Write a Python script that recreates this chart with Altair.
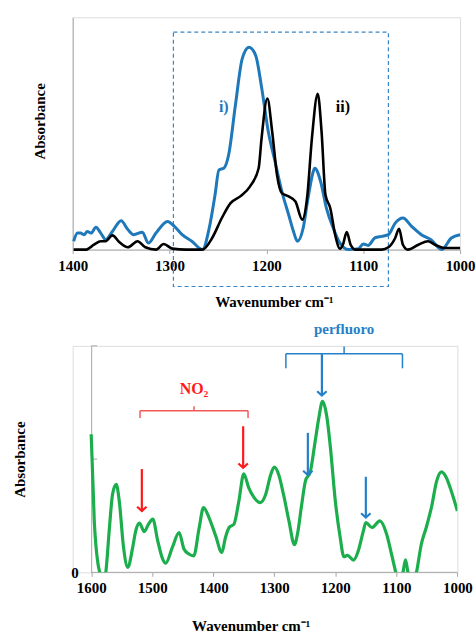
import altair as alt
import pandas as pd

# ---------------- data: top panel (i: blue, ii: black) ----------------
blue_wn = [1399, 1395, 1392, 1388, 1385, 1381, 1376, 1371, 1366, 1359, 1350, 1343, 1337, 1328, 1322,
           1314, 1302, 1295, 1287, 1277, 1266, 1259, 1253, 1249, 1244, 1239, 1232, 1225, 1218, 1211,
           1205, 1198, 1191, 1184, 1177, 1172, 1168, 1162, 1157, 1151, 1150, 1144, 1138, 1131, 1124,
           1115, 1105, 1100, 1095, 1088, 1081, 1074, 1067, 1059, 1050, 1040, 1030, 1019, 1009, 1000]
blue_abs = [0.036, 0.071, 0.071, 0.064, 0.078, 0.071, 0.096, 0.071, 0.043, 0.078, 0.124, 0.086, 0.064, 0.075, 0.028,
            0.071, 0.121, 0.100, 0.064, 0.036, 0.000, 0.093, 0.236, 0.343, 0.350, 0.407, 0.621, 0.821, 0.871, 0.835,
            0.700, 0.507, 0.378, 0.250, 0.150, 0.078, 0.036, 0.093, 0.221, 0.343, 0.350, 0.293, 0.178, 0.093, 0.028,
            0.000, 0.004, 0.024, 0.018, 0.050, 0.057, 0.064, 0.114, 0.136, 0.100, 0.064, 0.043, 0.000, 0.050, 0.064]

black_wn = [1399, 1386, 1378, 1371, 1366, 1359, 1352, 1343, 1333, 1325, 1314, 1306, 1297, 1283, 1266,
            1256, 1246, 1237, 1227, 1217, 1208, 1205, 1199, 1194, 1189, 1184, 1177, 1170, 1163, 1158,
            1153, 1147, 1143, 1139, 1134, 1129, 1124, 1121, 1117, 1113, 1108, 1081, 1074, 1067, 1063,
            1059, 1054, 1043, 1033, 1026, 1016, 1000]
black_abs = [0.000, 0.000, 0.021, 0.036, 0.036, 0.061, 0.033, 0.010, 0.036, 0.010, 0.000, 0.024, 0.004, 0.000, 0.000,
             0.050, 0.136, 0.200, 0.229, 0.271, 0.350, 0.478, 0.650, 0.507, 0.321, 0.243, 0.229, 0.207, 0.129, 0.221,
             0.478, 0.671, 0.507, 0.236, 0.178, 0.064, 0.004, 0.021, 0.075, 0.021, 0.000, 0.000, 0.010, 0.050, 0.090,
             0.021, 0.000, 0.021, 0.036, 0.021, 0.007, 0.007]

top_ticks = [1400, 1300, 1200, 1100, 1000]
box_wn = [1296, 1074]
box_abs = [0.936, -0.159]
top_label_text = ["i)", "ii)"]
top_label_wn = [1244, 1121]
top_label_abs = [0.614, 0.614]

# ---------------- data: bottom panel (green) ----------------
green_wn = [1600, 1595, 1589, 1586, 1581, 1576, 1570, 1565, 1559, 1554, 1547, 1540, 1532, 1527, 1521,
            1513, 1506, 1499, 1491, 1483, 1478, 1467, 1456, 1448, 1440, 1432, 1423, 1416, 1407, 1396,
            1386, 1380, 1374, 1366, 1358, 1350, 1342, 1333, 1323, 1314, 1306, 1300, 1293, 1285, 1276,
            1267, 1262, 1255, 1249, 1241, 1233, 1227, 1221, 1214, 1208, 1200, 1192, 1186, 1180, 1170,
            1162, 1154, 1150, 1140, 1127, 1116, 1108, 1101, 1094, 1089, 1085, 1081, 1075, 1067, 1059,
            1051, 1042, 1034, 1026, 1018, 1010, 1000]
green_abs = [0.610, 0.230, 0.040, 0.000, -0.060, 0.000, 0.200, 0.345, 0.389, 0.315, 0.110, 0.022, 0.110, 0.183, 0.217,
             0.180, 0.213, 0.235, 0.139, 0.059, 0.040, 0.110, 0.176, 0.103, 0.081, 0.073, 0.198, 0.286, 0.242, 0.161,
             0.088, 0.154, 0.198, 0.213, 0.315, 0.435, 0.374, 0.330, 0.308, 0.345, 0.430, 0.465, 0.433, 0.345, 0.227,
             0.122, 0.169, 0.301, 0.403, 0.444, 0.579, 0.682, 0.755, 0.689, 0.550, 0.315, 0.154, 0.069, 0.075, 0.054,
             0.098, 0.183, 0.220, 0.198, 0.227, 0.169, 0.081, 0.000, -0.080, 0.000, 0.055, 0.000, -0.080, 0.000, 0.125,
             0.198, 0.293, 0.403, 0.444, 0.418, 0.359, 0.271]

bottom_ticks = [1600, 1500, 1400, 1300, 1200, 1100, 1000]
bottom_y_ticks = [0, 0.5, 1]

# annotation arrows (wavenumber, tail absorbance, tip absorbance, group)
arrow_wn = [1517, 1351, 1222, 1245, 1150]
arrow_tail = [0.456, 0.645, 0.966, 0.616, 0.422]
arrow_tip = [0.271, 0.462, 0.781, 0.430, 0.242]
arrow_group = ["NO2", "NO2", "perfluoro", "perfluoro", "perfluoro"]

# brackets: (left wn, right wn, bar level, hook level, centre wn, centre top)
bracket_group = ["NO2", "perfluoro"]
bracket_left = [1520, 1281]
bracket_right = [1343, 1090]
bracket_level = [0.714, 0.965]
bracket_hook = [0.682, 0.901]
bracket_centre = [1431.5, 1185.6]
bracket_top = [0.733, 0.997]
bracket_label = ["NO\u2082", "perfluoro"]
bracket_label_abs = [0.808, 1.076]

# ---------------- styling ----------------
SERIF = "Liberation Serif"
GRAY = "#a6a6a6"
BLUE_LINE = "#1f78ba"
GREEN = "#1cae4c"
RED = "#ff1a1a"
RED_BRACKET = "#f25a5a"
BLUE_ANN = "#2680c8"
BOX = "#3a86c4"
group_color = {"NO2": RED, "perfluoro": BLUE_ANN}
bracket_color = {"NO2": RED_BRACKET, "perfluoro": BLUE_ANN}

# ---------------- top panel ----------------
TOP_W, TOP_H = 389, 233.3
x_top_scale = alt.Scale(domain=[1000, 1400], reverse=True, nice=False, zero=False)
y_top_scale = alt.Scale(domain=[0, 1], nice=False, zero=False)

x_top_axis = alt.Axis(values=top_ticks, format="d", title="Wavenumber cm\u207b\u00b9",
                      labelFont=SERIF, labelFontSize=15, labelFontWeight="bold", labelColor="black",
                      labelFlush=False, labelOverlap=False, labelPadding=5,
                      domainColor=GRAY, tickColor=GRAY, tickSize=4, grid=False,
                      titleFont=SERIF, titleFontSize=15, titleFontWeight="bold", titleColor="black",
                      titleX=202, titleY=52, titleBaseline="middle", titleAlign="center")
y_top_axis = alt.Axis(title="Absorbance", labels=False, ticks=False, grid=False, domainColor=GRAY,
                      titleFont=SERIF, titleFontSize=15, titleFontWeight="bold", titleColor="black",
                      titleX=-33, titleY=104, titleBaseline="middle", titleAlign="center", titleAngle=-90)


def xt(field="wn"):
    return alt.X(f"{field}:Q", scale=x_top_scale, axis=x_top_axis)


def yt(field="a"):
    return alt.Y(f"{field}:Q", scale=y_top_scale, axis=y_top_axis)


df_blue = pd.DataFrame({"wn": blue_wn, "a": blue_abs})
df_black = pd.DataFrame({"wn": black_wn, "a": black_abs})
df_box = pd.DataFrame({"wn": [box_wn[0]], "wn2": [box_wn[1]], "a": [box_abs[0]], "a2": [box_abs[1]]})
df_tlab = pd.DataFrame({"wn": top_label_wn, "a": top_label_abs, "t": top_label_text,
                        "c": [BLUE_LINE, "black"]})

top_box = alt.Chart(df_box).mark_rect(fillOpacity=0, stroke=BOX, strokeWidth=1.2, strokeDash=[4, 3]).encode(
    x=xt(), x2="wn2:Q", y=yt(), y2="a2:Q")
top_blue = alt.Chart(df_blue).mark_line(color=BLUE_LINE, strokeWidth=3, interpolate="monotone").encode(
    x=xt(), y=yt())
top_black = alt.Chart(df_black).mark_line(color="black", strokeWidth=2.6, interpolate="monotone").encode(
    x=xt(), y=yt())
top_text = alt.Chart(df_tlab).mark_text(font=SERIF, fontSize=16, fontWeight="bold").encode(
    x=xt(), y=yt(), text="t:N", color=alt.Color("c:N", scale=None))

top = alt.layer(top_box, top_blue, top_black, top_text).properties(width=TOP_W, height=TOP_H)

# ---------------- bottom panel ----------------
BOT_W, BOT_H = 386.3, 227.4
left_extra = 30.3  # plot area extends left of 1600 so the y axis sits inside
x_bot_scale = alt.Scale(domain=[1000, 1600 + left_extra], reverse=True, nice=False, zero=False)
y_bot_scale = alt.Scale(domain=[0, 1], nice=False, zero=False)
axis_shift = left_extra * BOT_W / (600 + left_extra)

x_bot_axis = alt.Axis(values=bottom_ticks, format="d", title="Wavenumber cm\u207b\u00b9",
                      labelFont=SERIF, labelFontSize=15, labelFontWeight="bold", labelColor="black",
                      labelFlush=False, labelOverlap=False, labelPadding=4,
                      domain=False, tickColor=GRAY, tickSize=4, grid=False,
                      titleFont=SERIF, titleFontSize=15, titleFontWeight="bold", titleColor="black",
                      titleX=178.7, titleY=53, titleBaseline="middle", titleAlign="center")
y_bot_axis = alt.Axis(values=bottom_y_ticks, labelExpr="datum.value == 0 ? '0' : ''", title="Absorbance",
                      ticks=False, grid=False, domainColor=GRAY, offset=-axis_shift, labelPadding=13,
                      labelFont=SERIF, labelFontSize=15, labelFontWeight="bold", labelColor="black",
                      labelBaseline="middle",
                      titleFont=SERIF, titleFontSize=15, titleFontWeight="bold", titleColor="black",
                      titleX=-71.7, titleY=BOT_H / 2, titleBaseline="middle", titleAlign="center",
                      titleAngle=-90)


def xb(field="wn"):
    return alt.X(f"{field}:Q", scale=x_bot_scale, axis=x_bot_axis)


def yb(field="a"):
    return alt.Y(f"{field}:Q", scale=y_bot_scale, axis=y_bot_axis)


df_green = pd.DataFrame({"wn": green_wn, "a": green_abs})
df_base = pd.DataFrame({"wn": [bottom_ticks[0]], "wn2": [bottom_ticks[-1]], "a": [0.0]})
df_ytick = pd.DataFrame({"wn": [bottom_ticks[0]] * 2, "a": bottom_y_ticks[1:]})

rows = []
for g, l, r, lv, hk, cw, ct in zip(bracket_group, bracket_left, bracket_right, bracket_level,
                                   bracket_hook, bracket_centre, bracket_top):
    col = bracket_color[g]
    rows.append({"wn": l, "wn2": r, "a": lv, "a2": lv, "c": col})
    rows.append({"wn": l, "wn2": l, "a": lv, "a2": hk, "c": col})
    rows.append({"wn": r, "wn2": r, "a": lv, "a2": hk, "c": col})
    rows.append({"wn": cw, "wn2": cw, "a": lv, "a2": ct, "c": col})
df_br = pd.DataFrame(rows)

df_arrow = pd.DataFrame({"wn": arrow_wn, "wn2": arrow_wn, "a": arrow_tail, "a2": arrow_tip,
                         "c": [group_color[g] for g in arrow_group]})
df_head = pd.DataFrame({"wn": arrow_wn, "a": arrow_tip, "c": [group_color[g] for g in arrow_group]})
df_blab = pd.DataFrame({"wn": bracket_centre, "a": bracket_label_abs, "t": bracket_label,
                        "c": [RED, BLUE_ANN], "fs": [16, 15]})

bot_base = alt.Chart(df_base).mark_rule(color=GRAY, strokeWidth=1).encode(x=xb(), x2="wn2:Q", y=yb())
bot_ytick = alt.Chart(df_ytick).mark_rule(color=GRAY, strokeWidth=1, x2Offset=6).encode(
    x=xb(), x2="wn:Q", y=yb())
bot_line = alt.Chart(df_green).mark_line(color=GREEN, strokeWidth=3.2, interpolate="monotone", clip=True).encode(
    x=xb(), y=yb())
bot_br = alt.Chart(df_br).mark_rule(strokeWidth=1.5).encode(
    x=xb(), x2="wn2:Q", y=yb(), y2="a2:Q", color=alt.Color("c:N", scale=None))
bot_arrow = alt.Chart(df_arrow).mark_rule(strokeWidth=2.2).encode(
    x=xb(), x2="wn2:Q", y=yb(), y2="a2:Q", color=alt.Color("c:N", scale=None))
bot_head = alt.Chart(df_head).mark_point(shape="M-1,-0.9L0,0L1,-0.9", filled=False, size=90,
                                         strokeWidth=2.2, opacity=1).encode(
    x=xb(), y=yb(), color=alt.Color("c:N", scale=None))
bot_text = alt.Chart(df_blab).mark_text(font=SERIF, fontWeight="bold", baseline="middle").encode(
    x=xb(), y=yb(), text="t:N", color=alt.Color("c:N", scale=None), size=alt.Size("fs:Q", scale=None))

bottom = alt.layer(bot_base, bot_ytick, bot_line, bot_br, bot_arrow, bot_head, bot_text).properties(
    width=BOT_W, height=BOT_H)

chart = alt.vconcat(top, bottom, spacing=11).properties(
    padding={"left": 12, "top": 15, "right": 0, "bottom": 0}
).configure_view(stroke=None).configure(background="white")

chart.save("out.html", embed_options={"renderer": "svg", "actions": False})
